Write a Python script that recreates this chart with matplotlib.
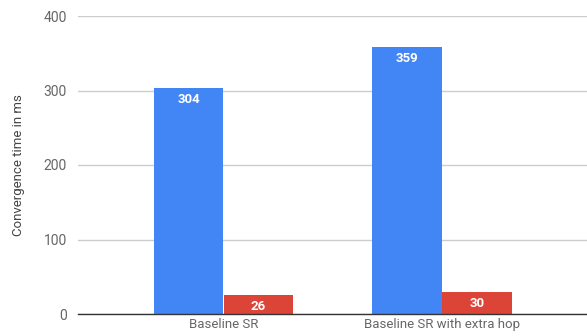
import matplotlib
matplotlib.use("Agg")
import matplotlib.pyplot as plt
import numpy as np

categories = ["Baseline SR", "Baseline SR with extra hop"]
series_a = [304, 359]
series_b = [26, 30]
yticks = [0, 100, 200, 300, 400]

plt.rcParams['font.family'] = ['Roboto', 'DejaVu Sans']

W, H = 587, 336
fig = plt.figure(figsize=(W/100, H/100), dpi=100)
ax = fig.add_axes([78/W, 22/H, (587-78)/W, (314-16)/H])

x = np.arange(len(categories))
w = 0.32
blue = "#4285F4"
red = "#DB4437"
b1 = ax.bar(x - w/2, series_a, width=w*0.99, color=blue, zorder=3)
b2 = ax.bar(x + w/2, series_b, width=w*0.99, color=red, zorder=3)

for rect, v in zip(list(b1) + list(b2), series_a + series_b):
    ax.annotate(str(v), (rect.get_x() + rect.get_width()/2, v), xytext=(0, -12),
                textcoords="offset pixels",
                ha="center", va="center", color="white", fontsize=9.5, fontweight="bold", zorder=4)

ax.set_xlim(-0.666, 1.664)
ax.set_ylim(0, 400)
ax.set_yticks(yticks)
ax.set_yticklabels([str(t) for t in yticks], color="#666666", fontsize=10)
ax.set_xticks(x)
ax.set_xticklabels(categories, color="#666666", fontsize=9.5)
ax.tick_params(axis="both", length=0)
ax.tick_params(axis="y", pad=8)
ax.tick_params(axis="x", pad=3)
ax.grid(axis="y", color="#cccccc", linewidth=1, zorder=0)
for s in ["top", "right", "left"]:
    ax.spines[s].set_visible(False)
ax.spines["bottom"].set_color("#333333")
ax.spines["bottom"].set_linewidth(1)
ax.spines["bottom"].set_zorder(5)
ax.set_ylabel("Convergence time in ms", color="#444444", fontsize=9.5, labelpad=13)

fig.savefig("out.png", dpi=100)
